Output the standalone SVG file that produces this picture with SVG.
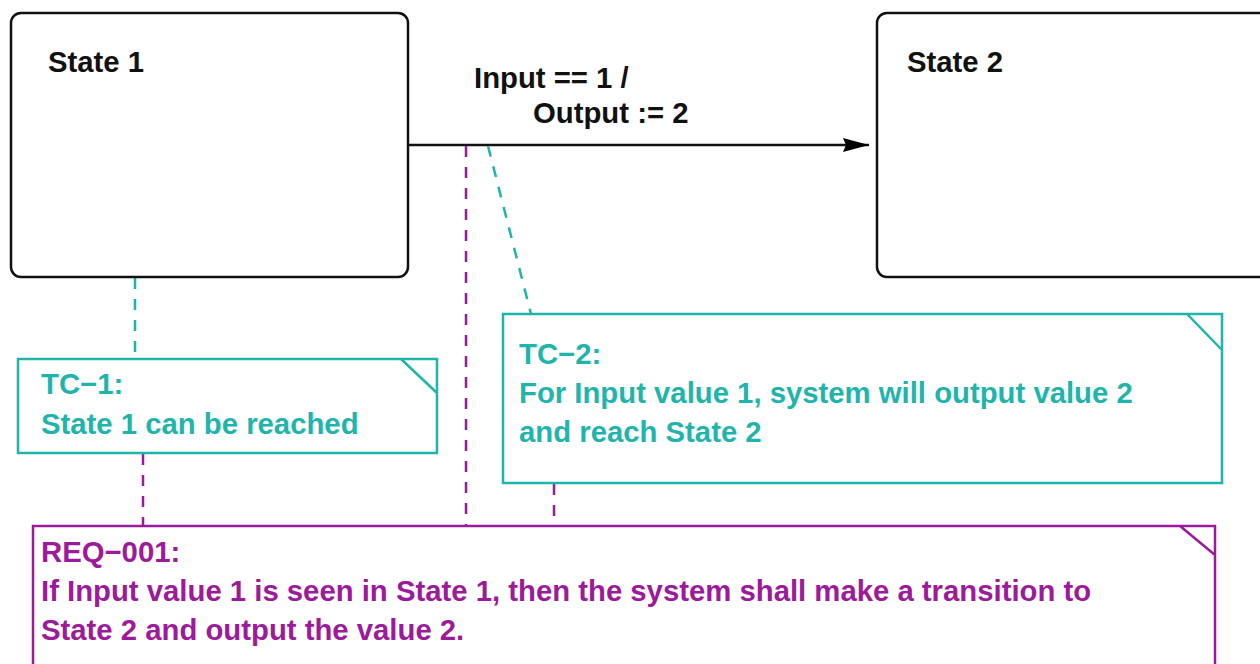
<svg xmlns="http://www.w3.org/2000/svg" width="1260" height="664" viewBox="0 0 1260 664">
  <defs>
    <marker id="arrow" viewBox="0 0 26 16" refX="26" refY="8" markerWidth="26" markerHeight="16" markerUnits="userSpaceOnUse" orient="auto">
      <path d="M0,1 L26,8 L0,15 L3,8 Z" fill="#000"/>
    </marker>
    <style>
      .state { fill: #fff; stroke: #111; stroke-width: 2.5; }
      .lbl { font-family: "Liberation Sans", Arial, sans-serif; font-weight: bold; font-size: 29.3px; }
      .blk { fill: #111; }
      .tc { fill: #fff; stroke: #1fb5ad; stroke-width: 2.5; }
      .tcTxt { fill: #1fb5ad; }
      .req { fill: #fff; stroke: #9c1a9c; stroke-width: 2.5; }
      .reqTxt { fill: #9c1a9c; }
      .tcLink { stroke: #1fb5ad; stroke-width: 2.5; stroke-dasharray: 11 10; fill: none; }
      .reqLink { stroke: #9c1a9c; stroke-width: 2.5; stroke-dasharray: 11 10; fill: none; }
    </style>
  </defs>

  <!-- connectors -->
  <g id="connectors">
    <line x1="408" y1="145" x2="869" y2="145" stroke="#111" stroke-width="2.5" marker-end="url(#arrow)"/>
    <line class="tcLink" x1="135" y1="278" x2="135" y2="374"/>
    <line class="tcLink" x1="488" y1="146" x2="531" y2="314"/>
    <line class="reqLink" x1="466" y1="146" x2="466" y2="527"/>
    <line class="reqLink" x1="143" y1="454" x2="143" y2="527"/>
    <line class="reqLink" x1="554" y1="484" x2="554" y2="527"/>
  </g>

  <g id="state1">
    <rect class="state" x="11" y="13" width="397" height="264" rx="10"/>
    <text class="lbl blk" x="48" y="72">State 1</text>
  </g>

  <g id="state2">
    <rect class="state" x="877" y="13" width="400" height="264" rx="10"/>
    <text class="lbl blk" x="907" y="72">State 2</text>
  </g>

  <g id="transition-label">
    <text class="lbl blk" x="474" y="88">Input == 1 /</text>
    <text class="lbl blk" x="533" y="123">Output := 2</text>
  </g>

  <g id="tc1">
    <path class="tc" d="M18,359 H437 V453 H18 Z M401,359 L437,393"/>
    <text class="lbl tcTxt" x="41" y="394">TC−1:</text>
    <text class="lbl tcTxt" x="41" y="434">State 1 can be reached</text>
  </g>

  <g id="tc2">
    <path class="tc" d="M503,314 H1222 V483 H503 Z M1187,314 L1222,350"/>
    <text class="lbl tcTxt" x="519" y="364">TC−2:</text>
    <text class="lbl tcTxt" x="519" y="403">For Input value 1, system will output value 2</text>
    <text class="lbl tcTxt" x="519" y="442">and reach State 2</text>
  </g>

  <g id="req001">
    <path class="req" d="M33,526 H1215 V680 H33 Z M1180,526 L1215,555"/>
    <text class="lbl reqTxt" x="41" y="562">REQ−001:</text>
    <text class="lbl reqTxt" x="41" y="601">If Input value 1 is seen in State 1, then the system shall make a transition to</text>
    <text class="lbl reqTxt" x="41" y="640">State 2 and output the value 2.</text>
  </g>
</svg>
